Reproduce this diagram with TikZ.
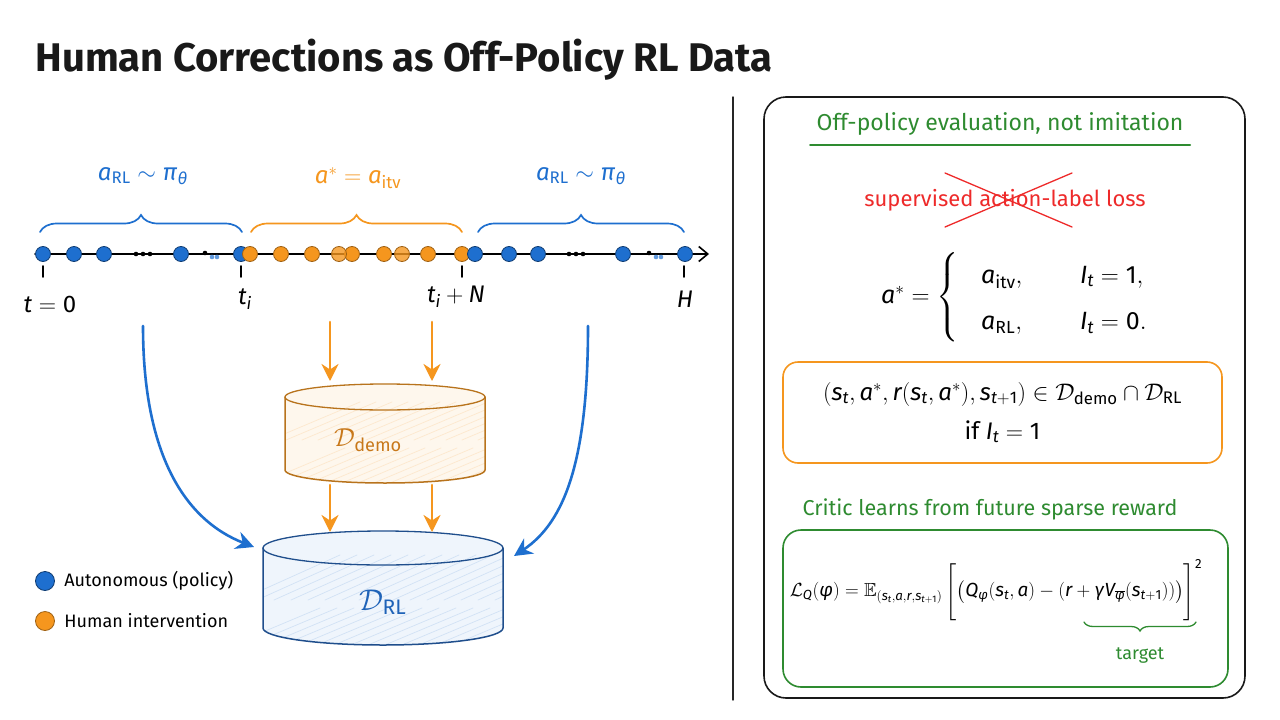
\RequirePackage{fix-cm}
\documentclass[tikz,border=0pt]{standalone}
\usepackage{amsmath,amssymb}
\usepackage{mathspec}
\setmainfont{Fira Sans}
\setmathsfont(Digits,Latin,Greek){Fira Sans}
\usetikzlibrary{arrows.meta,positioning,calc,decorations.pathreplacing}
\definecolor{polblue}{HTML}{1E6FCF}
\definecolor{hmnorange}{HTML}{F5961E}
\definecolor{hmngreen}{HTML}{2E8B30}
\definecolor{hmnred}{HTML}{EE2A2A}
\definecolor{demobrown}{HTML}{B8731C}
\definecolor{demotext}{HTML}{C8781A}
\definecolor{rlblue}{HTML}{1F4E8C}
\definecolor{rltext}{HTML}{1F63B8}
\newcommand{\fs}[1]{\fontsize{#1}{1.2\dimexpr#1pt\relax}\selectfont}

\begin{document}
\begin{tikzpicture}[x=1pt,y=-1pt,line cap=round,
 pdot/.style={circle, fill=polblue, draw=polblue!55!black, line width=0.8pt, minimum size=15pt, inner sep=0pt},
 hdot/.style={circle, fill=hmnorange, draw=hmnorange!65!black, line width=0.8pt, minimum size=15pt, inner sep=0pt},
 tinydot/.style={circle, fill=#1, inner sep=0pt, minimum size=4.6pt},
 brc/.style={decorate, decoration={brace, amplitude=17pt}, line width=1.7pt},
 farrow/.style={-{Stealth[length=17pt,width=17pt]}, line width=2.6pt, hmnorange},
 barrow/.style={-{Stealth[length=18pt,width=18pt]}, line width=2.6pt, polblue},
 tick/.style={line width=1.6pt},
 lbl/.style={font=\fs{24}},
 cardbox/.style={draw, rounded corners=15pt, line width=1.6pt, align=center}]
\useasboundingbox (0,0) rectangle (1280,720);
\fill[white] (0,0) rectangle (1280,720);
\node[anchor=west, font=\fs{40}\bfseries, black!90] (title) at (32,60) {Human Corrections as Off-Policy RL Data};

% timeline
\coordinate (tl0) at (35,254);\coordinate (tl1) at (709,254);
\draw[line width=1.6pt, -{Straight Barb[length=9pt,width=15pt]}] (tl0) -- (tl1);
\foreach \x in {43,241,462,684} \draw[tick] (\x,266) -- (\x,277);
\foreach \x in {136,143,150,569,576,583} \node[tinydot=black] at (\x,254) {};
\foreach \x in {205,649} \node[tinydot=black] at (\x,253) {};
\foreach \x in {212,217,656,661} \node[tinydot=polblue!70] at (\x,257) {};
\foreach \x in {43,74,104,181,241} \node[pdot] at (\x,254) {};
\foreach \x in {250,281,312,352,384,428,462} \node[hdot] at (\x,254) {};
\foreach \x in {339,402} \node[hdot, fill opacity=0.8] at (\x,254) {};
\foreach \x in {475,509,538,623,685} \node[pdot] at (\x,254) {};
\node[lbl] (t0) at (50,304) {$t = 0$};\node[lbl] (ti) at (245,299) {$t_i$};
\node[lbl] (tin) at (456,297) {$t_i + N$};\node[lbl] (th) at (685,299) {$H$};

% braces over the segments
\draw[brc, polblue] (40,232) -- (242,232);\draw[brc, hmnorange] (251,232) -- (462,232);\draw[brc, polblue] (478,232) -- (684,232);
\node[lbl, polblue] (seg1) at (143,176) {$a_{\text{RL}} \sim \pi_\theta$};
\node[lbl, hmnorange] (seg2) at (358,178) {$a^{*} = a_{\text{itv}}$};
\node[lbl, polblue] (seg3) at (581,176) {$a_{\text{RL}} \sim \pi_\theta$};

% demo buffer
\begin{scope}
\clip (285,397) -- (285,470) arc[start angle=180,end angle=0,x radius=100,y radius=13] -- (485,397) arc[start angle=0,end angle=-180,x radius=100,y radius=13];
\fill[hmnorange!8] (280,380) rectangle (490,490);
\foreach \k in {0,...,16} \draw[hmnorange!22, line width=0.7pt] (250+\k*16,488) -- ++(95,-40) (270+\k*16,440) -- ++(90,-38);
\end{scope}
\draw[demobrown, line width=1.5pt] (285,397) -- (285,470) arc[start angle=180,end angle=0,x radius=100,y radius=13] -- (485,397);
\draw[demobrown, line width=1.3pt] (385,397) ellipse[x radius=100,y radius=13];
\node[font=\fs{26}, demotext] (demo) at (368,440) {$\mathcal{D}_{\text{demo}}$};

% RL buffer
\begin{scope}
\clip (263,548) -- (263,628) arc[start angle=180,end angle=0,x radius=120,y radius=17] -- (503,548) arc[start angle=0,end angle=-180,x radius=120,y radius=17];
\fill[polblue!7] (255,525) rectangle (510,650);
\foreach \k in {0,...,18} \draw[polblue!20, line width=0.7pt] (220+\k*17,650) -- ++(100,-42) (240+\k*17,600) -- ++(100,-45);
\end{scope}
\draw[rlblue, line width=1.5pt] (263,548) -- (263,628) arc[start angle=180,end angle=0,x radius=120,y radius=17] -- (503,548);
\draw[rlblue, line width=1.3pt] (383,548) ellipse[x radius=120,y radius=17];
\node[font=\fs{30}, rltext] (rl) at (383,602) {$\mathcal{D}_{\text{RL}}$};

% flows into the buffers
\coordinate (oa1) at (330,322);\coordinate (ob1) at (330,381);\coordinate (oa2) at (432,322);\coordinate (ob2) at (432,381);
\coordinate (oc1) at (330,485);\coordinate (od1) at (330,532);\coordinate (oc2) at (432,485);\coordinate (od2) at (432,532);
\draw[farrow] (oa1) -- (ob1);\draw[farrow] (oa2) -- (ob2);\draw[farrow] (oc1) -- (od1);\draw[farrow] (oc2) -- (od2);
\coordinate (bl0) at (143,326);\coordinate (bl1) at (254,547);\coordinate (br0) at (588,326);\coordinate (br1) at (514,556);
\draw[barrow] (bl0) .. controls (143,455) and (185,520) .. (bl1);
\draw[barrow] (br0) .. controls (588,460) and (565,522) .. (br1);

% legend
\node[pdot, minimum size=19pt] (legp) at (45,581) {};\node[right=6pt of legp, font=\fs{18}] (legptxt) {Autonomous (policy)};
\node[hdot, minimum size=19pt] (legh) at (45,621) {};\node[right=6pt of legh, font=\fs{18}] (leghtxt) {Human intervention};

\draw[line width=1.4pt, black!85] (733,97) -- (733,700);

% right panel
\draw[line width=1.6pt, rounded corners=22pt, black!90] (764,97) rectangle (1245,698);
\node[font=\fs{23}, hmngreen] (head1) at (1000,124) {Off-policy evaluation, not imitation};
\draw[hmngreen, line width=2pt] (810,145) -- (1190,145);
\node[font=\fs{22}, hmnred] (sup) at (1005,200) {supervised action-label loss};
\draw[hmnred, line width=1.3pt] (945,173) -- (1072,227) (945,227) -- (1072,173);
\node[font=\fs{25}] (astar) at (1017,297) {$\def\arraystretch{1.55}a^{*} = \left\{\begin{array}{@{\hspace{0.9em}}l@{\hspace{2.3em}}l}a_{\text{itv}}, & I_t = 1,\\ a_{\text{RL}}, & I_t = 0.\end{array}\right.$};
\node[cardbox, draw=hmnorange, minimum width=439pt, minimum height=101pt, font=\fontsize{24}{39}\selectfont] (membox) at (1002.5,412.5) {$(s_t, a^{*}, r(s_t, a^{*}), s_{t+1}) \in \mathcal{D}_{\text{demo}} \cap \mathcal{D}_{\text{RL}}$\\if $I_t = 1$};
\node[font=\fs{21.5}, hmngreen] (head2) at (990,509) {Critic learns from future sparse reward};
\node[cardbox, draw=hmngreen, rounded corners=18pt, minimum width=445pt, minimum height=157pt] (criticbox) at (1005.5,608.5) {};
\node[font=\fs{19}, inner sep=1pt] (lq) at (996,590) {$\mathcal{L}_Q(\phi) = \mathbb{E}_{(s_t,a,r,s_{t+1})}\left[\vphantom{\rule[-21pt]{0pt}{50pt}}\big(Q_\phi(s_t,a) - (r + \gamma V_{\overline{\phi}}(s_{t+1}))\big)\right]^{2}$};
\draw[decorate, decoration={brace, amplitude=9pt}, hmngreen, line width=1.3pt] (1196,622) -- (1084,622);
\node[font=\fs{18}, hmngreen, inner sep=1pt] (target) at (1140,655) {target};
\end{tikzpicture}
\end{document}
